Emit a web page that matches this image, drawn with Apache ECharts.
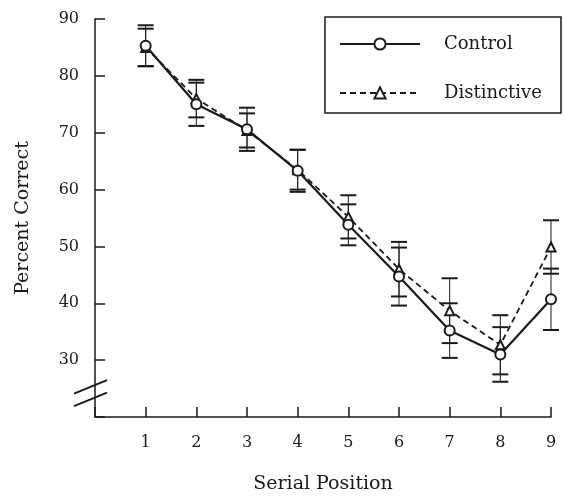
<!DOCTYPE html>
<html lang="en">
<head>
<meta charset="UTF-8">
<title>Serial Position</title>
<script src="https://cdn.jsdelivr.net/npm/echarts@6/dist/echarts.min.js"></script>
<style>
    html, body { margin: 0; padding: 0; background: #fff; }
    #main { width: 564px; height: 499px; }
</style>
</head>
<body>
<div id="main"></div>
<script>
    // data
    var positions = [1, 2, 3, 4, 5, 6, 7, 8, 9];
    var controlVals = [85.3, 75.0, 70.6, 63.3, 53.8, 44.7, 35.2, 31.0, 40.7];
    var controlErr = [3.6, 3.8, 3.8, 3.7, 3.6, 5.1, 4.8, 4.8, 5.4];
    var distinctVals = [85.0, 76.0, 70.4, 63.5, 55.2, 46.0, 38.7, 32.7, 49.9];
    var distinctErr = [3.3, 3.3, 3.0, 3.5, 3.8, 4.8, 5.7, 5.2, 4.7];
    var breakVals = [25.3, 23.1];

    var font = 'DejaVu Serif';
    var ink = '#1a1a1a';

    function pairs(vals) {
        return positions.map(function (p, i) { return [p, vals[i]]; });
    }
    function bars(vals, errs) {
        return positions.map(function (p, i) { return [p, vals[i] - errs[i], vals[i] + errs[i]]; });
    }
    // error bar: thin stem, heavier caps
    function renderErr(params, api) {
        var x = api.value(0);
        var lo = api.coord([x, api.value(1)]);
        var hi = api.coord([x, api.value(2)]);
        var w = 8;
        return {
            type: 'group',
            children: [
                {type: 'line', shape: {x1: lo[0], y1: lo[1], x2: hi[0], y2: hi[1]}, style: {stroke: ink, lineWidth: 1}},
                {type: 'line', shape: {x1: lo[0] - w, y1: lo[1], x2: lo[0] + w, y2: lo[1]}, style: {stroke: ink, lineWidth: 2}},
                {type: 'line', shape: {x1: hi[0] - w, y1: hi[1], x2: hi[0] + w, y2: hi[1]}, style: {stroke: ink, lineWidth: 2}}
            ]
        };
    }

    var myChart = echarts.init(document.getElementById('main'));
    var option = {
        animation: false,
        backgroundColor: '#fff',
        grid: {left: 95, right: 13, top: 19, bottom: 79},
        legend: {
            orient: 'vertical',
            left: 334,
            top: 30,
            itemWidth: 80,
            itemHeight: 14,
            itemGap: 31,
            data: ['Control', 'Distinctive'],
            textStyle: {fontFamily: font, fontSize: 18, color: ink, padding: [0, 0, 0, 19]}
        },
        xAxis: {
            type: 'value',
            min: 0,
            max: 9,
            interval: 1,
            name: 'Serial Position',
            nameLocation: 'middle',
            nameGap: 58,
            nameTextStyle: {fontFamily: font, fontSize: 19, color: ink},
            axisLine: {lineStyle: {color: ink, width: 1.5}},
            axisTick: {inside: true, length: 10, lineStyle: {color: ink, width: 1.5}},
            axisLabel: {
                margin: 18,
                fontFamily: font, fontSize: 16, color: ink,
                formatter: function (v) { return v === 0 ? '' : v; }
            },
            splitLine: {show: false}
        },
        yAxis: {
            type: 'value',
            min: 20,
            max: 90,
            interval: 10,
            name: 'Percent Correct',
            nameLocation: 'middle',
            nameGap: 62,
            nameTextStyle: {fontFamily: font, fontSize: 19, color: ink},
            axisLine: {show: true, lineStyle: {color: ink, width: 1.5}},
            axisTick: {inside: true, length: 10, lineStyle: {color: ink, width: 1.5}},
            axisLabel: {
                margin: 16,
                fontFamily: font, fontSize: 16, color: ink,
                formatter: function (v) { return v === 20 ? '' : v; }
            },
            splitLine: {show: false}
        },
        series: [
            {
                name: 'Distinctive err',
                type: 'custom',
                renderItem: renderErr,
                data: bars(distinctVals, distinctErr),
                z: 1
            },
            {
                name: 'Control err',
                type: 'custom',
                renderItem: renderErr,
                data: bars(controlVals, controlErr),
                z: 1
            },
            {
                name: 'Distinctive',
                type: 'line',
                data: pairs(distinctVals),
                symbol: 'triangle',
                symbolSize: 9,
                itemStyle: {color: '#fff', borderColor: ink, borderWidth: 2},
                lineStyle: {color: ink, width: 1.8, type: [6, 4]},
                z: 3
            },
            {
                name: 'Control',
                type: 'line',
                data: pairs(controlVals),
                symbol: 'circle',
                symbolSize: 10,
                itemStyle: {color: '#fff', borderColor: ink, borderWidth: 2},
                lineStyle: {color: ink, width: 2.2},
                z: 4
            }
        ]
    };
    myChart.setOption(option);

    // legend frame and axis break marks
    var ax = myChart.convertToPixel({gridIndex: 0}, [0, 20])[0];
    var marks = breakVals.map(function (v) {
        var y = myChart.convertToPixel({gridIndex: 0}, [0, v])[1];
        return {
            type: 'line',
            shape: {x1: ax - 21, y1: y + 6.7, x2: ax + 12, y2: y - 6.7},
            style: {stroke: ink, lineWidth: 2}
        };
    });
    marks.push({
        type: 'rect',
        shape: {x: 325, y: 17, width: 236, height: 96},
        style: {fill: 'none', stroke: ink, lineWidth: 1.5}
    });
    myChart.setOption({graphic: marks});
</script>
</body>
</html>
